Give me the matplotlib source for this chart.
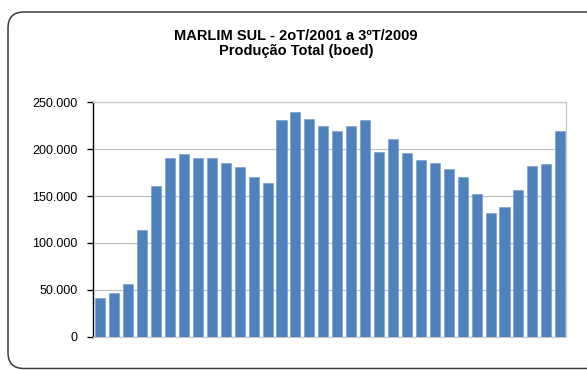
import matplotlib
matplotlib.use("Agg")
import matplotlib.pyplot as plt
from matplotlib.patches import FancyBboxPatch
from matplotlib.ticker import FuncFormatter
import numpy as np

plt.rcParams['font.family'] = ['Liberation Sans', 'DejaVu Sans']

# quarterly production, 2Q2001 .. 3Q2009 (boed)
quarters = [f"{q}T/{y}" for y in range(2001, 2010) for q in range(1, 5)][1:-1]
production = [41000, 47000, 56000, 114000, 161000, 191000, 194500, 191000, 191000,
              185000, 181000, 170000, 164000, 231000, 240000, 232000, 225000, 219000,
              225000, 231000, 197000, 211000, 196000, 188000, 185000, 179000, 170000,
              152000, 132000, 138000, 156000, 182000, 184000, 219000]
y_ticks = [0, 50000, 100000, 150000, 200000, 250000]

fig = plt.figure(figsize=(5.87, 3.70), dpi=100)
fig.patch.set_facecolor('white')

# rounded chart-area border (pixel coordinates)
border = FancyBboxPatch((8, 1.5), 600, 356.5, boxstyle="round,pad=0,rounding_size=16",
                        transform=None, facecolor='none', edgecolor='#3c3c3c',
                        linewidth=1.1, zorder=0)
fig.patches.append(border)

ax = fig.add_axes([0.159, 0.090, 0.8047, 0.6335])
x = np.arange(len(quarters))
ax.bar(x, production, width=0.72, color='#4F81BD', edgecolor='#6f9ad0', linewidth=0.4, zorder=3)

ax.set_xlim(-0.5, len(quarters) - 0.61)
ax.set_ylim(0, 250000)
ax.set_yticks(y_ticks)
ax.yaxis.set_major_formatter(FuncFormatter(lambda v, _: f"{int(v):,}".replace(',', '.')))
ax.set_xticks([])
ax.grid(axis='y', color='#c0c0c0', linewidth=0.9, zorder=0)

for side in ('top', 'right', 'bottom'):
    ax.spines[side].set_color('#c8c8c8')
    ax.spines[side].set_linewidth(0.9)
ax.spines['left'].set_color('black')
ax.spines['left'].set_linewidth(1.0)
ax.tick_params(axis='y', direction='out', length=4, width=1.0, color='black',
               labelsize=9, pad=7.5)

fig.text(0.504, 0.883, "MARLIM SUL - 2oT/2001 a 3ºT/2009\nProdução Total (boed)",
         ha='center', va='center', fontsize=10.5, fontweight='bold', linespacing=1.05)

fig.savefig("out.png", dpi=100)
